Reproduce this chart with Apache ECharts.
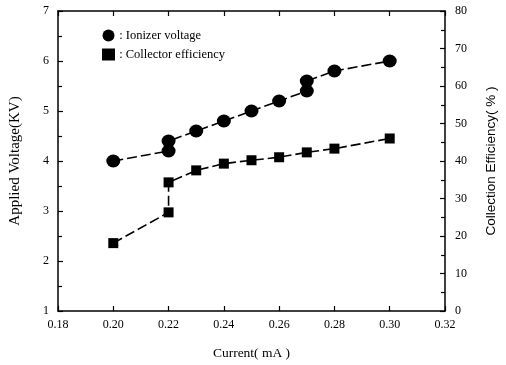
<!DOCTYPE html>
<html><head><meta charset="utf-8">
<script src="https://cdn.jsdelivr.net/npm/echarts@6/dist/echarts.min.js"></script>
<style>html,body{margin:0;padding:0;background:#fff}#c{width:506px;height:365px}</style>
</head><body><div id="c"></div>
<script>
var ionizerX = [0.20, 0.22, 0.22, 0.23, 0.24, 0.25, 0.26, 0.27, 0.27, 0.28, 0.30];
var ionizerKV = [4.0, 4.2, 4.4, 4.6, 4.8, 5.0, 5.2, 5.4, 5.6, 5.8, 6.0];
var collectorX = [0.20, 0.22, 0.22, 0.23, 0.24, 0.25, 0.26, 0.27, 0.28, 0.30];
var collectorPct = [18.1, 26.3, 34.3, 37.5, 39.3, 40.2, 41.0, 42.3, 43.3, 46.0];
var seriesNames = [' : Ionizer voltage', ' : Collector efficiency'];

function pairs(xs, ys){ return xs.map(function(x,i){return [x, ys[i]];}); }
var serif = 'Liberation Serif';
var chart = echarts.init(document.getElementById('c'));
chart.setOption({
  animation: false,
  backgroundColor: '#fff',
  grid: {left: 57, right: 60, top: 11, bottom: 53},
  legend: {
    orient: 'vertical', left: 97, top: 24, itemWidth: 13, itemHeight: 12, itemGap: 6,
    textStyle: {fontFamily: serif, fontSize: 12.5, color: '#000', padding: [0,0,0,-4]},
    data: [{name: seriesNames[0], icon: 'circle'}, {name: seriesNames[1], icon: 'rect'}]
  },
  xAxis: [{
    type: 'value', min: 0.18, max: 0.32, interval: 0.02,
    name: 'Current( mA )', nameLocation: 'middle', nameGap: 35,
    nameTextStyle: {fontFamily: serif, fontSize: 13.5, color: '#000'},
    axisLine: {lineStyle: {color: '#000', width: 1.5}},
    axisTick: {inside: true, length: 5, lineStyle: {color: '#000', width: 1.2}},
    axisLabel: {fontFamily: serif, fontSize: 12, color: '#000', margin: 8,
      formatter: function(v){return v.toFixed(2);}},
    splitLine: {show: false}
  },{
    type: 'value', position: 'top', min: 0.18, max: 0.32, interval: 0.02,
    axisLine: {lineStyle: {color: '#000', width: 1.5}},
    axisTick: {inside: true, length: 5, lineStyle: {color: '#000', width: 1.2}},
    axisLabel: {show: false}, splitLine: {show: false}
  }],
  yAxis: [{
    type: 'value', min: 1, max: 7, interval: 1,
    name: 'Applied Voltage(KV)', nameLocation: 'middle', nameGap: 35, nameRotate: 90,
    nameTextStyle: {fontFamily: serif, fontSize: 15, color: '#000'},
    axisLine: {show: true, lineStyle: {color: '#000', width: 1.5}},
    axisTick: {inside: true, length: 5, lineStyle: {color: '#000', width: 1.2}},
    minorTick: {show: true, splitNumber: 2, length: 4, lineStyle: {color: '#000', width: 1.2}},
    axisLabel: {fontFamily: serif, fontSize: 12, color: '#000', margin: 9},
    splitLine: {show: false}
  },{
    type: 'value', min: 0, max: 80, interval: 10, position: 'right',
    name: 'Collection Efficiency( % )', nameLocation: 'middle', nameGap: 39, nameRotate: 90,
    nameTextStyle: {fontFamily: 'Liberation Sans Narrow, Liberation Sans', fontSize: 13.5, color: '#000'},
    axisLine: {show: true, lineStyle: {color: '#000', width: 1.5}},
    axisTick: {inside: true, length: 5, lineStyle: {color: '#000', width: 1.2}},
    minorTick: {show: true, splitNumber: 2, length: 4, lineStyle: {color: '#000', width: 1.2}},
    axisLabel: {fontFamily: serif, fontSize: 12, color: '#000', margin: 10},
    splitLine: {show: false}
  }],
  series: [{
    name: seriesNames[0], type: 'line', xAxisIndex: 0, yAxisIndex: 0,
    data: pairs(ionizerX, ionizerKV),
    symbol: 'circle', symbolSize: [14, 13],
    itemStyle: {color: '#000'},
    lineStyle: {color: '#000', width: 1.6, type: [10, 4]}
  },{
    name: seriesNames[1], type: 'line', xAxisIndex: 0, yAxisIndex: 1,
    data: pairs(collectorX, collectorPct),
    symbol: 'rect', symbolSize: 10,
    itemStyle: {color: '#000'},
    lineStyle: {color: '#000', width: 1.6, type: [10, 4]}
  }]
});
</script></body></html>
